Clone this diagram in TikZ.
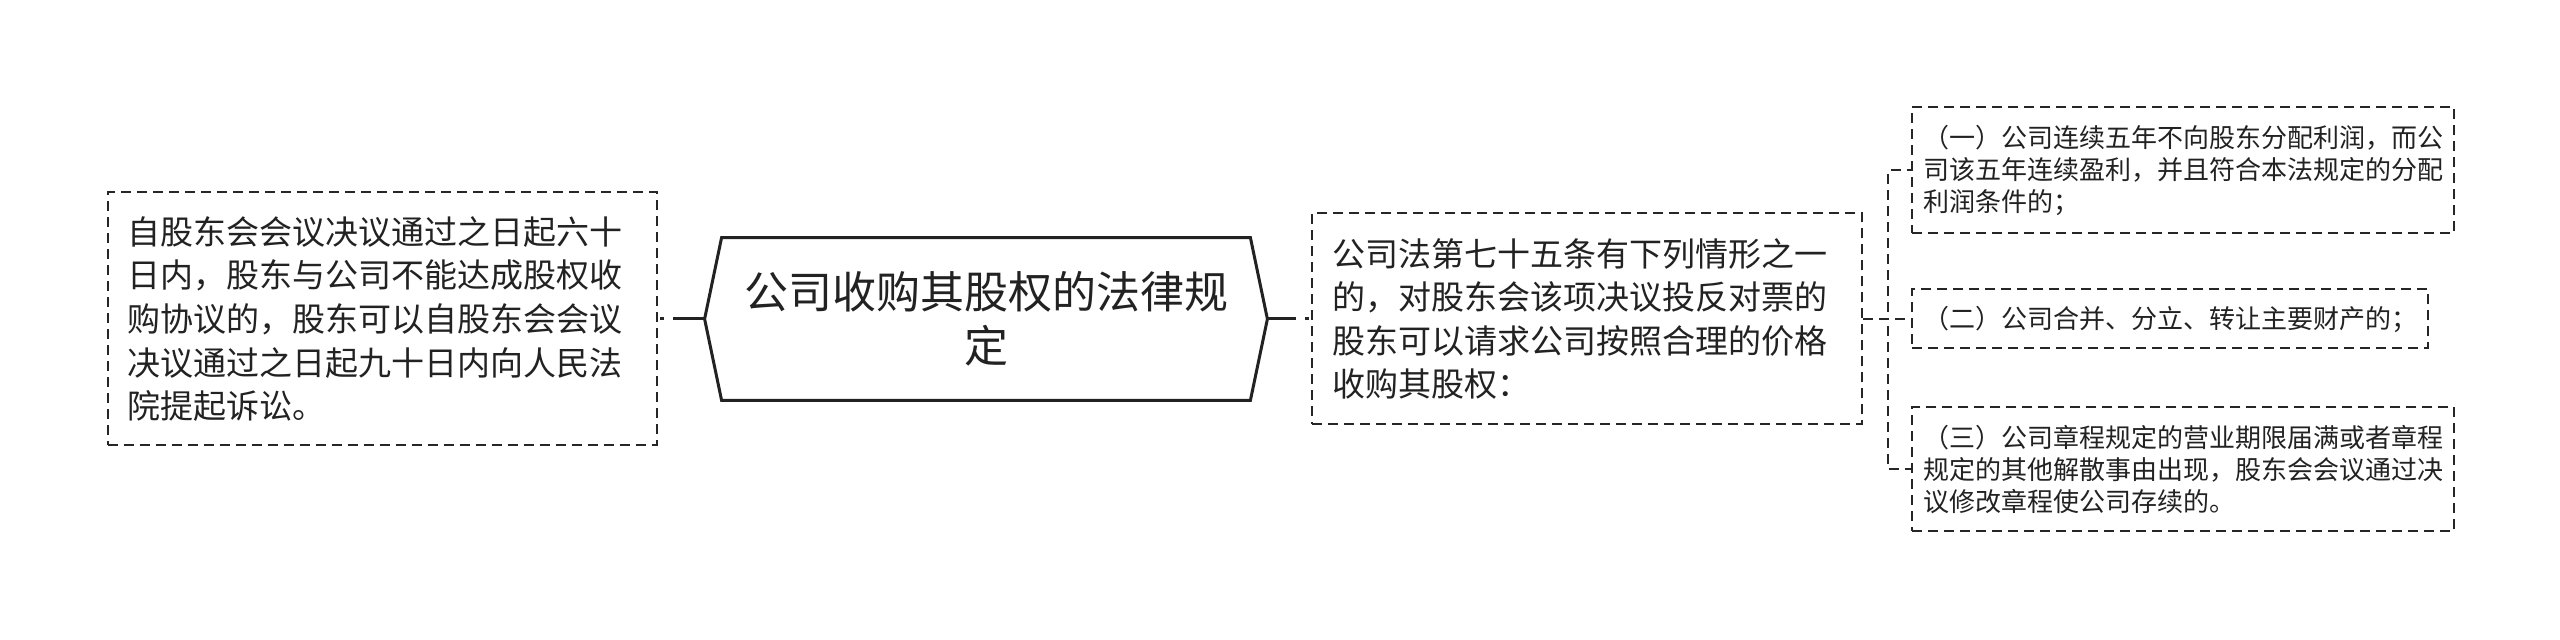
\documentclass[tikz,border=0pt]{standalone}
\usepackage{fontspec}
\usepackage{xcolor}
\usepackage{tikz}
\usetikzlibrary{positioning,calc}
\newfontfamily\cjk{Noto Sans CJK SC}
\definecolor{ink}{HTML}{222222}
\definecolor{rule}{HTML}{262626}
\newcommand{\titlefont}{\cjk\fontsize{22pt}{27pt}\selectfont}
\newcommand{\bodyfont}{\cjk\fontsize{16.5pt}{21.8pt}\selectfont}
\newcommand{\subfont}{\cjk\fontsize{13pt}{16pt}\selectfont}
\tikzset{
  rootbox/.style={rectangle, draw=none, align=center, text=ink, font=\titlefont,
                  minimum width=281pt, minimum height=81pt, inner sep=0pt, text width=250pt},
  hexline/.style={draw=ink, line width=1.5pt, line join=miter},
  box/.style={rectangle, draw=rule, dash pattern=on 5pt off 3pt, line width=1pt,
              align=left, text=ink, inner xsep=10pt, inner ysep=0pt},
  leaf/.style={box, font=\bodyfont, text width=254.5pt, minimum height=126.5pt},
  midbox/.style={box, font=\bodyfont, text width=255pt, minimum height=105.5pt},
  subbox/.style={box, font=\subfont, inner xsep=5.5pt},
  fl/.style={draw=ink, line width=1.5pt},
  flx/.style={draw=rule, line width=1pt, dash pattern=on 5pt off 3pt},
  flk/.style={draw=rule, line width=1.5pt, dash pattern=on 0pt off 4.5pt on 2pt off 10pt}
}

\begin{document}
\begin{tikzpicture}
  \useasboundingbox[fill=white] (0,0) rectangle (1280pt,320pt);

  \node[rootbox] (root) at (493pt,160.5pt) {公司收购其股权的法律规\\定};
  \draw[hexline] (root.west) -- ([xshift=8.5pt]root.north west)
    -- ([xshift=-8.5pt]root.north east) -- (root.east)
    -- ([xshift=-8.5pt]root.south east) -- ([xshift=8.5pt]root.south west) -- cycle;

  \node[leaf, left=23.5pt of root] (suit) {自股东会会议决议通过之日起六十\\日内，股东与公司不能达成股权收\\购协议的，股东可以自股东会会议\\决议通过之日起九十日内向人民法\\院提起诉讼。};
  \node[midbox, right=22pt of root] (art) {公司法第七十五条有下列情形之一\\的，对股东会该项决议投反对票的\\股东可以请求公司按照合理的价格\\收购其股权：};

  \node[subbox, text width=247pt, minimum height=29.5pt, right=24pt of art] (case2) {（二）公司合并、分立、转让主要财产的；};
  \node[subbox, text width=260pt, minimum height=63pt, above=27pt of case2.north west, anchor=south west] (case1) {（一）公司连续五年不向股东分配利润，而公\\司该五年连续盈利，并且符合本法规定的分配\\利润条件的；};
  \node[subbox, text width=260pt, minimum height=62pt, below=28.5pt of case2.south west, anchor=north west] (case3) {（三）公司章程规定的营业期限届满或者章程\\规定的其他解散事由出现，股东会会议通过决\\议修改章程使公司存续的。};

  % root to the two sides
  \coordinate (lj) at ($(suit.east)+(7.5pt,0)$);
  \coordinate (rj) at ($(art.west)+(-7.5pt,0)$);
  \draw[fl] (root.west) -- (lj);
  \draw[flk] (lj) -- (suit.east);
  \draw[fl] (root.east) -- (rj);
  \draw[flk] (rj) -- (art.west);

  % fork to the three cases
  \coordinate (fork) at ($(art.east)+(12.5pt,0)$);
  \foreach \c in {case1,case2,case3}
     \draw[flx] (art.east) -- (fork) |- (\c.west);
\end{tikzpicture}
\end{document}
